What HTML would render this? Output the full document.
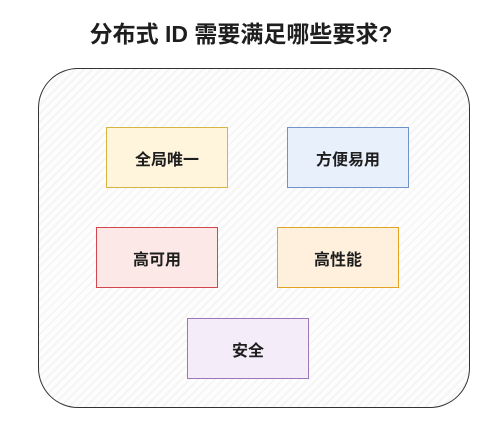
<!DOCTYPE html>
<html><head><meta charset="utf-8"><style>
body{margin:0;width:498px;height:426px;background:#fff;position:relative;overflow:hidden;font-family:"Liberation Sans","Noto Sans CJK SC",sans-serif}
.t{position:absolute;left:86px;width:310px;top:15px;text-align:center;font-size:23px;font-weight:bold;color:#1e1e1e;white-space:nowrap}
.o{position:absolute;left:38px;top:68px;width:430px;height:338px;border:1.5px solid #333;border-radius:40px;background:repeating-linear-gradient(-45deg,#f5f5f5 0 2px,#fdfdfd 2px 6px)}
.b{position:absolute;width:120px;height:59px;border:1.5px solid;display:flex;align-items:center;justify-content:center;font-size:16px;font-weight:bold;color:#1e1e1e}
</style></head><body>
<div class="t">分布式 ID 需要满足哪些要求?</div>
<div class="o"></div>
<div class="b" style="left:106px;top:127px;border-color:#d6b443;background:#fff5dc">全局唯一</div>
<div class="b" style="left:287px;top:127px;border-color:#6f92c8;background:#e8f0fc">方便易用</div>
<div class="b" style="left:96px;top:227px;border-color:#d0484e;background:#fde8e8">高可用</div>
<div class="b" style="left:277px;top:227px;border-color:#e2a323;background:#fff0dd">高性能</div>
<div class="b" style="left:187px;top:318px;border-color:#9b76b8;background:#f4ecf9">安全</div>
</body></html>
